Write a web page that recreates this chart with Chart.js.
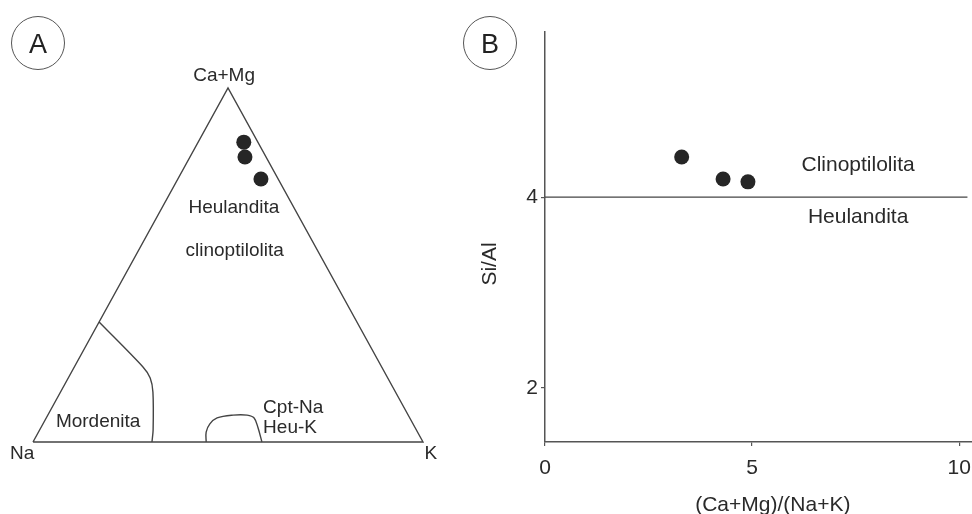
<!DOCTYPE html>
<html><head><meta charset="utf-8">
<script src="https://cdn.jsdelivr.net/npm/chart.js@4"></script>
<style>
html,body{margin:0;padding:0;background:#fff;overflow:hidden;}
#wrap{position:relative;width:972px;height:514px;overflow:hidden;font-family:"Liberation Sans",Arial,sans-serif;background:#fff;}
#cA{position:absolute;left:0;top:0;width:470px;height:514px;}
#cB{position:absolute;left:470px;top:0;width:520px;height:514px;}
.tag{position:absolute;width:52px;height:52px;border:1.3px solid #555;border-radius:50%;text-align:center;line-height:54px;font-size:27px;color:#222;}
</style></head><body>
<div id="wrap">
<canvas id="cA" width="470" height="514"></canvas>
<canvas id="cB" width="520" height="514"></canvas>
<div class="tag" style="left:11px;top:16px">A</div>
<div class="tag" style="left:463px;top:16px">B</div>
</div>
<script>
// ---------- Panel A: ternary Ca+Mg / Na / K (percent) ----------
const sampleCaMg = [84.7, 80.5, 74.3];
const sampleK    = [11.7, 14.1, 21.3];
const sampleNa   = [3.6, 5.4, 4.4];
// field boundaries (Ca+Mg %, K %; Na is the remainder)
const mordenitaCaMg = [33.9, 21.2, 18.1, 14.1, 3.4, 0];
const mordenitaK    = [0, 17.6, 21.0, 23.7, 29.1, 30.5];
const cptNaCaMg = [0, 2.8, 5.1, 6.8, 7.6, 7.6, 6.8, 4.0, 0];
const cptNaK    = [44.4, 43.0, 42.8, 43.8, 47.5, 51.1, 53.3, 55.7, 58.7];
const vertexLabels = ["Ca+Mg", "Na", "K"];
const fieldLabels = ["Heulandita", "clinoptilolita", "Mordenita", "Cpt-Na", "Heu-K"];

// ---------- Panel B: Si/Al vs (Ca+Mg)/(Na+K) ----------
const ratioCaMgNaK = [3.3, 4.3, 4.9];
const ratioSiAl    = [4.42, 4.19, 4.16];
const siAlBoundary = 4;
const xTickValues = [0, 5, 10];
const yTickValues = [2, 4];
const xAxisTitle = "(Ca+Mg)/(Na+K)";
const yAxisTitle = "Si/Al";
const regionLabelsB = ["Clinoptilolita", "Heulandita"];

const FONT = '"Liberation Sans", Arial, sans-serif';

function tern(caMg, k, na) {
  const t = caMg + k + na;
  return { x: (k + caMg / 2) / t, y: caMg / t };
}
const samplesA = sampleCaMg.map((c, i) => tern(c, sampleK[i], sampleNa[i]));
const mordenitaLine = mordenitaCaMg.map((c, i) => tern(c, mordenitaK[i], 100 - c - mordenitaK[i]));
const cptNaLine = cptNaCaMg.map((c, i) => tern(c, cptNaK[i], 100 - c - cptNaK[i]));
const triangle = [tern(0, 0, 100), tern(0, 100, 0), tern(100, 0, 0), tern(0, 0, 100)];

function textPlugin(items) {
  return {
    id: 'txt',
    afterDatasetsDraw(chart) {
      const ctx = chart.ctx;
      ctx.save();
      items.forEach(it => {
        const px = it.px !== undefined ? it.px(chart) : chart.scales.x.getPixelForValue(it.x);
        const py = it.py !== undefined ? it.py(chart) : chart.scales.y.getPixelForValue(it.y);
        ctx.font = it.size + 'px ' + FONT;
        ctx.fillStyle = '#2a2a2a';
        ctx.textAlign = it.align || 'center';
        ctx.textBaseline = 'middle';
        if (it.rot) {
          ctx.save(); ctx.translate(px, py); ctx.rotate(it.rot); ctx.fillText(it.text, 0, 0); ctx.restore();
        } else {
          ctx.fillText(it.text, px, py);
        }
      });
      ctx.restore();
    }
  };
}

const lineStyle = { showLine: true, borderColor: '#444', borderWidth: 1.4, pointRadius: 0, clip: false, fill: false };

new Chart(document.getElementById('cA'), {
  type: 'scatter',
  data: {
    datasets: [
      Object.assign({ data: triangle, tension: 0, borderJoinStyle: 'miter' }, lineStyle),
      Object.assign({ data: mordenitaLine, tension: 0.3 }, lineStyle),
      Object.assign({ data: cptNaLine, tension: 0.35 }, lineStyle),
      { data: samplesA, pointRadius: 7.5, backgroundColor: '#262626', borderWidth: 0, clip: false }
    ]
  },
  options: {
    responsive: false, animation: false, events: [],
    layout: { padding: { left: 33, right: 47, top: 88, bottom: 72 } },
    plugins: { legend: { display: false }, tooltip: { enabled: false } },
    scales: {
      x: { type: 'linear', display: false, min: 0, max: 1 },
      y: { type: 'linear', display: false, min: 0, max: 1 }
    }
  },
  plugins: [textPlugin([
    { text: vertexLabels[0], x: 0.49, y: 1.034, size: 19 },
    { text: vertexLabels[1], x: -0.028, y: -0.033, size: 19 },
    { text: vertexLabels[2], x: 1.02, y: -0.033, size: 19 },
    { text: fieldLabels[0], x: 0.515, y: 0.661, size: 19 },
    { text: fieldLabels[1], x: 0.517, y: 0.54, size: 19 },
    { text: fieldLabels[2], x: 0.167, y: 0.057, size: 19 },
    { text: fieldLabels[3], x: 0.59, y: 0.097, size: 19, align: 'left' },
    { text: fieldLabels[4], x: 0.59, y: 0.04, size: 19, align: 'left' }
  ])]
});

const axisCommon = {
  type: 'linear',
  grid: { display: true, drawOnChartArea: false, drawTicks: true, tickLength: 4, color: '#555', lineWidth: 1.2 },
  border: { display: true, color: '#555', width: 1.5 },
  title: { display: false }
};

new Chart(document.getElementById('cB'), {
  type: 'scatter',
  data: {
    datasets: [
      Object.assign({ data: [{ x: 0, y: siAlBoundary }, { x: 10.2, y: siAlBoundary }] }, lineStyle),
      { data: ratioCaMgNaK.map((v, i) => ({ x: v, y: ratioSiAl[i] })), pointRadius: 7.5, backgroundColor: '#262626', borderWidth: 0, clip: false }
    ]
  },
  options: {
    responsive: false, animation: false, events: [],
    layout: { padding: { left: 0, right: 18, top: 32, bottom: 0 } },
    plugins: { legend: { display: false }, tooltip: { enabled: false } },
    scales: {
      x: Object.assign({}, axisCommon, {
        min: 0, max: 10.31,
        afterBuildTicks: s => { s.ticks = xTickValues.map(v => ({ value: v })); },
        afterFit: s => { s.height = 72; },
        ticks: { font: { size: 21, family: FONT }, color: '#2a2a2a', padding: 10, maxRotation: 0, autoSkip: false }
      }),
      y: Object.assign({}, axisCommon, {
        min: 1.435, max: 5.73,
        afterBuildTicks: s => { s.ticks = yTickValues.map(v => ({ value: v })); },
        afterFit: s => { s.width = 75; },
        ticks: { font: { size: 21, family: FONT }, color: '#2a2a2a', padding: 3, autoSkip: false }
      })
    }
  },
  plugins: [textPlugin([
    { text: regionLabelsB[0], x: 7.56, y: 4.335, size: 21 },
    { text: regionLabelsB[1], x: 7.56, y: 3.79, size: 21 },
    { text: xAxisTitle, x: 5.5, py: c => c.chartArea.bottom + 63, size: 21 },
    { text: yAxisTitle, px: c => c.chartArea.left - 55, py: () => 264, size: 21, rot: -Math.PI / 2 }
  ])]
});
</script>
</body></html>
